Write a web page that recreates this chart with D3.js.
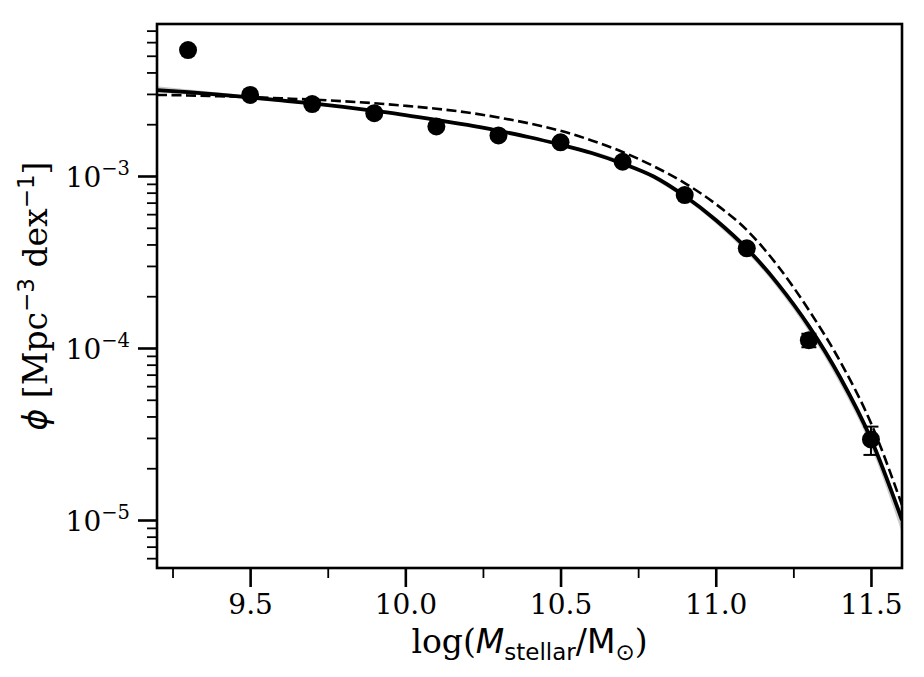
<!DOCTYPE html>
<html>
<head>
<meta charset="utf-8">
<script src="https://cdn.jsdelivr.net/npm/d3@7"></script>
<style>
  body { margin: 0; background: #fff; }
  svg text { fill: #000; }
</style>
</head>
<body>
<div id="chart"></div>
<script>
    // Observed stellar mass function (points with error bars)
    var massBins = [9.3, 9.5, 9.7, 9.9, 10.1, 10.3, 10.5, 10.7, 10.9, 11.1, 11.3, 11.5];
    var phiObs = [5.40e-3, 2.96e-3, 2.62e-3, 2.32e-3, 1.94e-3, 1.72e-3, 1.57e-3, 1.21e-3, 7.75e-4, 3.80e-4, 1.11e-4, 2.94e-5];
    var phiErr = [1.2e-4, 6e-5, 5e-5, 5e-5, 4e-5, 4e-5, 4e-5, 3e-5, 2.5e-5, 1.5e-5, 1.0e-5, 5.5e-6];

    // Fitted curve (solid) and reference curve (dashed)
    var curveMass = [9.2, 9.3, 9.4, 9.5, 9.6, 9.7, 9.8, 9.9, 10.0, 10.1, 10.2, 10.3, 10.4,
                     10.5, 10.6, 10.7, 10.8, 10.9, 11.0, 11.1, 11.2, 11.3, 11.4, 11.5, 11.6];
    var phiFit = [3.16e-3, 3.07e-3, 2.97e-3, 2.86e-3, 2.75e-3, 2.64e-3, 2.52e-3, 2.39e-3, 2.26e-3,
                  2.12e-3, 1.98e-3, 1.83e-3, 1.68e-3, 1.52e-3, 1.36e-3, 1.18e-3, 9.93e-4, 7.65e-4,
                  5.55e-4, 3.79e-4, 2.36e-4, 1.34e-4, 6.78e-5, 2.96e-5, 1.0e-5];
    var phiRef = [2.96e-3, 2.94e-3, 2.91e-3, 2.88e-3, 2.83e-3, 2.78e-3, 2.72e-3, 2.65e-3, 2.56e-3,
                  2.46e-3, 2.34e-3, 2.19e-3, 2.02e-3, 1.83e-3, 1.61e-3, 1.38e-3, 1.14e-3, 9.1e-4,
                  6.87e-4, 4.85e-4, 3.0e-4, 1.66e-4, 8.4e-5, 3.66e-5, 1.22e-5];

    // Uncertainty band around the fit
    var bandMass = [9.2, 9.6, 10.0, 10.4, 10.8, 11.0, 11.2, 11.4, 11.5, 11.6];
    var bandLo = [3.06e-3, 2.70e-3, 2.23e-3, 1.65e-3, 9.6e-4, 5.3e-4, 2.22e-4, 6.2e-5, 2.66e-5, 8.4e-6];
    var bandHi = [3.32e-3, 2.80e-3, 2.29e-3, 1.71e-3, 1.01e-3, 5.75e-4, 2.46e-4, 7.1e-5, 3.15e-5, 1.08e-5];

    // Axis ticks
    var xMajorTicks = [9.5, 10.0, 10.5, 11.0, 11.5];
    var xMinorTicks = [9.25, 9.75, 10.25, 10.75, 11.25];
    var yMajorTicks = [1e-3, 1e-4, 1e-5];
    var yExponents = ["\u22123", "\u22124", "\u22125"];
    var yMinorTicks = [6e-6, 7e-6, 8e-6, 9e-6,
                       2e-5, 3e-5, 4e-5, 5e-5, 6e-5, 7e-5, 8e-5, 9e-5,
                       2e-4, 3e-4, 4e-4, 5e-4, 6e-4, 7e-4, 8e-4, 9e-4,
                       2e-3, 3e-3, 4e-3, 5e-3, 6e-3, 7e-3];

    var serif = "'DejaVu Serif', serif";
    var sans = "'DejaVu Sans', sans-serif";

    // Chart dimensions
    var margin = { top: 24, right: 22, bottom: 109, left: 157 };
    var width = 924 - margin.left - margin.right;
    var height = 677 - margin.top - margin.bottom;

    var svg = d3.select("#chart")
      .append("svg")
      .attr("width", 924)
      .attr("height", 677);

    var g = svg.append("g")
      .attr("transform", "translate(" + margin.left + "," + margin.top + ")");

    var xScale = d3.scaleLinear().domain([9.2, 11.6]).range([0, width]);
    var yScale = d3.scaleLog().domain([5.26e-6, 7.65e-3]).range([height, 0]);

    // Clip to the axes area
    g.append("clipPath").attr("id", "clip")
      .append("rect").attr("width", width).attr("height", height);
    var plot = g.append("g").attr("clip-path", "url(#clip)");

    // Uncertainty band
    var bandData = bandMass.map(function (m, i) { return { m: m, lo: bandLo[i], hi: bandHi[i] }; });
    plot.append("path")
      .datum(bandData)
      .attr("fill", "#000")
      .attr("fill-opacity", 0.2)
      .attr("d", d3.area()
        .curve(d3.curveMonotoneX)
        .x(function (d) { return xScale(d.m); })
        .y0(function (d) { return yScale(d.lo); })
        .y1(function (d) { return yScale(d.hi); }));

    // Dashed reference curve
    var line = d3.line()
      .curve(d3.curveMonotoneX)
      .x(function (d) { return xScale(d.m); })
      .y(function (d) { return yScale(d.phi); });

    plot.append("path")
      .datum(curveMass.map(function (m, i) { return { m: m, phi: phiRef[i] }; }))
      .attr("fill", "none")
      .attr("stroke", "#000")
      .attr("stroke-width", 2.6)
      .attr("stroke-dasharray", "10,4.5")
      .attr("d", line);

    // Solid fit curve
    plot.append("path")
      .datum(curveMass.map(function (m, i) { return { m: m, phi: phiFit[i] }; }))
      .attr("fill", "none")
      .attr("stroke", "#000")
      .attr("stroke-width", 3.8)
      .attr("d", line);

    // Data points with error bars
    var pts = massBins.map(function (m, i) { return { m: m, phi: phiObs[i], err: phiErr[i] }; });
    var eb = plot.selectAll(".errbar").data(pts).enter().append("g").attr("class", "errbar")
      .attr("stroke", "#000").attr("stroke-width", 2);
    eb.append("line")
      .attr("x1", function (d) { return xScale(d.m); })
      .attr("x2", function (d) { return xScale(d.m); })
      .attr("y1", function (d) { return yScale(d.phi + d.err); })
      .attr("y2", function (d) { return yScale(d.phi - d.err); });
    [1, -1].forEach(function (s) {
      eb.append("line")
        .attr("x1", function (d) { return xScale(d.m) - 7.5; })
        .attr("x2", function (d) { return xScale(d.m) + 7.5; })
        .attr("y1", function (d) { return yScale(d.phi + s * d.err); })
        .attr("y2", function (d) { return yScale(d.phi + s * d.err); });
    });

    plot.selectAll(".point").data(pts).enter()
      .append("circle")
      .attr("class", "point")
      .attr("cx", function (d) { return xScale(d.m); })
      .attr("cy", function (d) { return yScale(d.phi); })
      .attr("r", 9)
      .attr("fill", "#000");

    // X axis: major and minor ticks
    var xAxis = g.append("g")
      .attr("transform", "translate(0," + height + ")")
      .call(d3.axisBottom(xScale).tickValues(xMajorTicks).tickSize(19).tickPadding(7)
        .tickFormat(d3.format(".1f")));
    xAxis.selectAll("line").attr("stroke-width", 2.6);
    xAxis.selectAll("text").attr("font-family", serif).attr("font-size", 28);

    g.append("g")
      .attr("transform", "translate(0," + height + ")")
      .call(d3.axisBottom(xScale).tickValues(xMinorTicks).tickSize(10).tickFormat(""))
      .selectAll("line").attr("stroke-width", 1.8);

    // Y axis: major and minor ticks
    var yAxis = g.append("g")
      .call(d3.axisLeft(yScale).tickValues(yMajorTicks).tickSize(19).tickPadding(8));
    yAxis.selectAll("line").attr("stroke-width", 2.6);

    g.append("g")
      .call(d3.axisLeft(yScale).tickValues(yMinorTicks).tickSize(10).tickFormat(""))
      .selectAll("line").attr("stroke-width", 1.8);

    g.selectAll(".domain").remove();

    // Tick labels as 10^n
    yAxis.selectAll(".tick text")
      .attr("font-family", serif)
      .attr("font-size", 28)
      .attr("dy", "0.38em")
      .each(function (d, i) {
        var t = d3.select(this).text("");
        t.append("tspan").text("10");
        t.append("tspan").attr("font-size", 19.5).attr("dy", "-0.62em").text(yExponents[i]);
      });

    // Frame
    g.append("rect")
      .attr("width", width)
      .attr("height", height)
      .attr("fill", "none")
      .attr("stroke", "#000")
      .attr("stroke-width", 2.6);

    // X axis label
    var xl = svg.append("text")
      .attr("x", margin.left + width / 2)
      .attr("y", 653)
      .attr("text-anchor", "middle")
      .attr("font-size", 33)
      .attr("font-family", serif);
    xl.append("tspan").text("log(");
    xl.append("tspan").attr("font-family", sans).attr("font-style", "italic").text("M");
    xl.append("tspan").attr("font-family", sans).attr("font-size", 23).attr("dy", 7).text("stellar");
    xl.append("tspan").attr("font-family", sans).attr("dy", -7).text("/M");
    xl.append("tspan").attr("font-family", sans).attr("font-size", 23).attr("dy", 7).text("\u2299");
    xl.append("tspan").attr("dy", -7).text(")");

    // Y axis label
    var yl = svg.append("text")
      .attr("transform", "translate(47," + (margin.top + height / 2) + ") rotate(-90)")
      .attr("text-anchor", "middle")
      .attr("font-size", 33)
      .attr("font-family", serif);
    yl.append("tspan").attr("font-family", sans).attr("font-style", "italic").text("\u03d5");
    yl.append("tspan").text(" [Mpc");
    yl.append("tspan").attr("font-family", sans).attr("font-size", 23).attr("dy", -13).text("\u22123");
    yl.append("tspan").attr("dy", 13).text(" dex");
    yl.append("tspan").attr("font-family", sans).attr("font-size", 23).attr("dy", -13).text("\u22121");
    yl.append("tspan").attr("dy", 13).text("]");
</script>
</body>
</html>
